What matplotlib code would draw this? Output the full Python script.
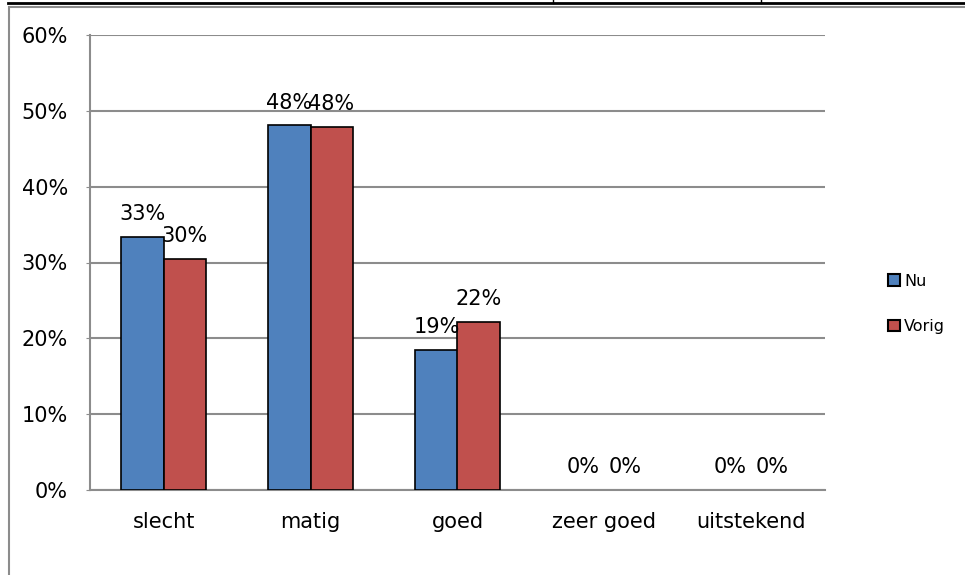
import matplotlib
matplotlib.use("Agg")
import matplotlib.pyplot as plt
import numpy as np
from matplotlib.lines import Line2D
from matplotlib.patches import Rectangle

categories = ["slecht", "matig", "goed", "zeer goed", "uitstekend"]
nu = [33.4, 48.1, 18.5, 0.0, 0.0]
vorig = [30.5, 47.9, 22.2, 0.0, 0.0]
nu_labels = ["33%", "48%", "19%", "0%", "0%"]
vorig_labels = ["30%", "48%", "22%", "0%", "0%"]
yticks = [0, 10, 20, 30, 40, 50, 60]

plt.rcParams['font.family'] = ['DejaVu Sans']

W, H = 965, 575
fig = plt.figure(figsize=(W / 100, H / 100), dpi=100)

# outer chart frame and top table remnant
fig.add_artist(Rectangle((9 / W, -0.01), (W + 10) / W, (H - 7) / H + 0.01,
                         transform=fig.transFigure, fill=False, edgecolor="#8c8c8c", lw=1.5))
fig.add_artist(Line2D([8 / W, 1], [1 - 2.8 / H, 1 - 2.8 / H], transform=fig.transFigure,
                      color="black", lw=2.0))
for xv in [553, 761]:
    fig.add_artist(Line2D([xv / W, xv / W], [1 - 3 / H, 1], transform=fig.transFigure,
                          color="black", lw=1.0))

ax = fig.add_axes([90 / W, 1 - 490 / H, 735 / W, 455 / H])
x = np.arange(len(categories))
bw = 0.286
lw_nu = [1.2 if v > 0 else 0 for v in nu]
lw_vo = [1.2 if v > 0 else 0 for v in vorig]
b1 = ax.bar(x - bw / 2, nu, bw, color="#4F81BD", edgecolor="black", linewidth=lw_nu, label="Nu", zorder=3)
b2 = ax.bar(x + bw / 2, vorig, bw, color="#C0504D", edgecolor="black", linewidth=lw_vo, label="Vorig", zorder=3)

for xi, v, t in zip(x, nu, nu_labels):
    ax.annotate(t, (xi - bw / 2, v), xytext=(0, 12), textcoords="offset points",
                ha="center", va="baseline", fontsize=15)
for xi, v, t in zip(x, vorig, vorig_labels):
    ax.annotate(t, (xi + bw / 2, v), xytext=(0, 12), textcoords="offset points",
                ha="center", va="baseline", fontsize=15)

ax.set_xlim(-0.5, len(categories) - 0.5)
ax.set_ylim(0, 60)
ax.set_yticks(yticks)
ax.set_yticklabels([f"{v}%" for v in yticks], fontsize=15)
ax.set_xticks(x)
ax.set_xticklabels(categories, fontsize=15)
ax.yaxis.grid(True, color="#8c8c8c", lw=1.5, zorder=0)
for s in ["top", "right"]:
    ax.spines[s].set_visible(False)
ax.spines["left"].set_color("#8c8c8c")
ax.spines["bottom"].set_color("#8c8c8c")
ax.spines["left"].set_linewidth(1.5)
ax.spines["bottom"].set_linewidth(1.5)
ax.tick_params(axis="y", length=3, color="#8c8c8c", pad=13)
ax.tick_params(axis="x", length=0, pad=16)

leg = fig.legend(handles=[b1, b2], labels=["Nu", "Vorig"], loc="center left",
                 bbox_to_anchor=(874 / W, 1 - 304 / H), frameon=False, fontsize=11.5,
                 handlelength=0.75, handleheight=0.75, handletextpad=0.25, labelspacing=1.9)
for p in leg.get_patches():
    p.set_linewidth(1.5)

fig.savefig("out.png", dpi=100)
